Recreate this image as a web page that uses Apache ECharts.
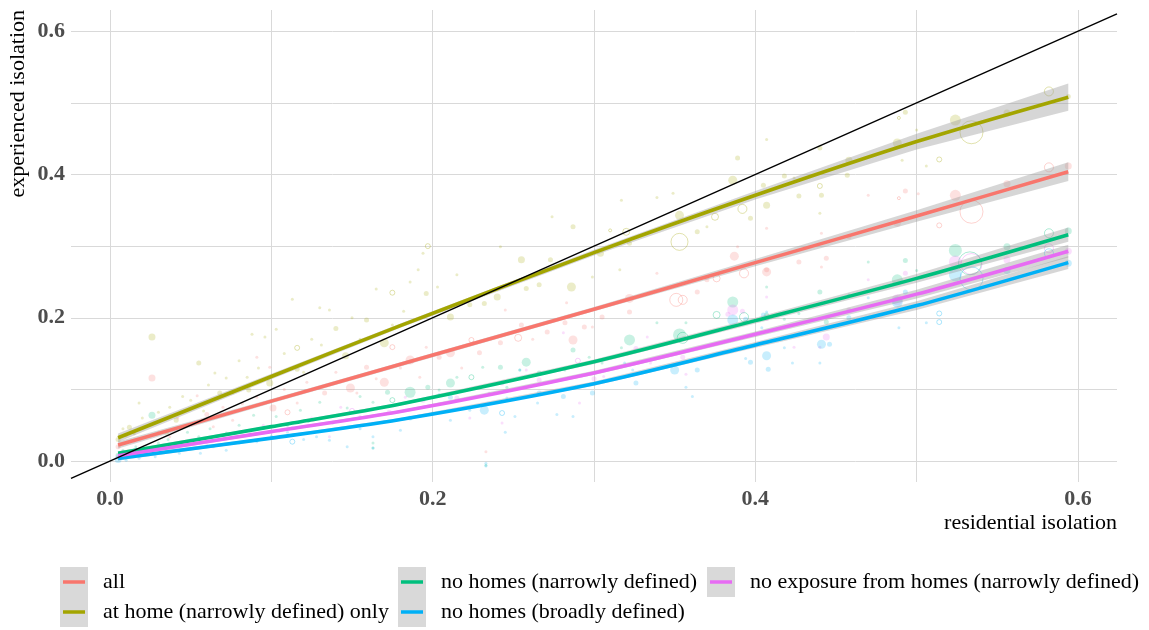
<!DOCTYPE html>
<html>
<head>
<meta charset="utf-8">
<script src="https://cdn.jsdelivr.net/npm/echarts@6/dist/echarts.min.js"></script>
<style>html,body{margin:0;padding:0;background:#fff}#c{width:1149px;height:630px}</style>
</head>
<body>
<div id="c"></div>
<script>
// ---------- data ----------
const groups = ['all', 'at home (narrowly defined) only', 'no homes (narrowly defined)', 'no homes (broadly defined)', 'no exposure from homes (narrowly defined)'];
const xRange = [-0.0242, 0.6242];
const yRange = [-0.0293, 0.6297];
const xGrid = [0, 0.1, 0.2, 0.3, 0.4, 0.5, 0.6];
const yGrid = [0, 0.1, 0.2, 0.3, 0.4, 0.5, 0.6];
const xTickLabels = [0, 0.2, 0.4, 0.6];
const yTickLabels = [0, 0.2, 0.4, 0.6];

// fitted curves
const fitX = [0.005, 0.1, 0.18, 0.3, 0.4, 0.5, 0.594];
const fitAll   = [0.0223, 0.0836, 0.135, 0.212, 0.277, 0.342, 0.404];
const fitHome  = [0.0325, 0.118, 0.189, 0.291, 0.371, 0.446, 0.508];
const fitNoHN  = [0.0107, 0.048, 0.0796, 0.1386, 0.196, 0.255, 0.316];
const fitNoHB  = [0.0037, 0.032, 0.058, 0.108, 0.162, 0.217, 0.277];
const fitNoExp = [0.0074, 0.041, 0.069, 0.123, 0.177, 0.233, 0.293];
// half widths of the confidence bands
const seAll   = [0.005, 0.003, 0.003, 0.003, 0.005, 0.008, 0.013];
const seHome  = [0.006, 0.004, 0.003, 0.004, 0.006, 0.011, 0.019];
const seNoHN  = [0.003, 0.002, 0.002, 0.003, 0.004, 0.006, 0.010];
const seNoHB  = [0.003, 0.002, 0.002, 0.003, 0.004, 0.006, 0.009];
const seNoExp = [0.003, 0.002, 0.002, 0.003, 0.004, 0.006, 0.009];

// points: [residential, experienced, weight]
const ptsAll = [[0.005,0.020,2],[0.010,0.035,1],[0.015,0.028,1],[0.020,0.045,1],[0.026,0.116,3],[0.030,0.040,1],[0.037,0.034,1],[0.042,0.060,1],[0.048,0.050,1],[0.054,0.091,1],[0.060,0.065,2],[0.064,0.048,1],[0.070,0.075,1],[0.076,0.057,1],[0.082,0.080,1],[0.091,0.089,1],[0.091,0.145,1],[0.099,0.131,1],[0.101,0.074,3],[0.108,0.100,1],[0.116,0.081,1],[0.122,0.110,1],[0.126,0.057,1],[0.133,0.095,2],[0.140,0.124,1],[0.149,0.102,4],[0.153,0.095,1],[0.159,0.131,2],[0.165,0.115,1],[0.170,0.110,4],[0.180,0.130,1],[0.186,0.141,4],[0.192,0.117,1],[0.196,0.159,1],[0.204,0.145,2],[0.211,0.151,4],[0.218,0.130,1],[0.229,0.151,2],[0.242,0.165,2],[0.245,0.211,1],[0.255,0.190,2],[0.262,0.170,1],[0.271,0.180,2],[0.282,0.193,2],[0.283,0.221,1],[0.287,0.169,4],[0.294,0.187,2],[0.299,0.187,1],[0.305,0.201,2],[0.322,0.227,4],[0.322,0.208,2],[0.339,0.262,1],[0.364,0.236,2],[0.370,0.253,2],[0.387,0.286,4],[0.389,0.299,1],[0.407,0.267,2],[0.407,0.264,4],[0.407,0.325,1],[0.427,0.278,2],[0.441,0.318,1],[0.444,0.283,2],[0.441,0.271,1],[0.458,0.313,2],[0.470,0.371,1],[0.488,0.332,3],[0.493,0.377,2],[0.501,0.373,1],[0.524,0.371,5],[0.556,0.387,3],[0.594,0.412,3],[0.233,0.013,1]];
const openAll = [[0.110,0.068,2],[0.175,0.159,2],[0.224,0.169,2],[0.253,0.172,3],[0.351,0.225,6],[0.355,0.225,4],[0.376,0.255,3],[0.393,0.262,4],[0.489,0.367,1],[0.514,0.329,2],[0.534,0.348,11],[0.582,0.410,4]];

const ptsHome = [[0.005,0.030,2],[0.008,0.045,1],[0.012,0.047,2],[0.015,0.038,1],[0.018,0.081,1],[0.020,0.060,1],[0.026,0.173,3],[0.027,0.053,1],[0.030,0.068,1],[0.035,0.040,2],[0.037,0.075,1],[0.041,0.057,2],[0.045,0.090,1],[0.050,0.085,1],[0.055,0.137,2],[0.058,0.070,1],[0.061,0.106,1],[0.065,0.123,1],[0.068,0.095,2],[0.072,0.116,1],[0.076,0.095,1],[0.080,0.140,1],[0.085,0.117,1],[0.086,0.099,2],[0.088,0.177,1],[0.092,0.130,1],[0.096,0.173,1],[0.099,0.109,3],[0.103,0.184,1],[0.108,0.150,1],[0.113,0.226,1],[0.116,0.128,2],[0.120,0.124,1],[0.125,0.170,1],[0.130,0.214,1],[0.131,0.162,1],[0.136,0.211,1],[0.140,0.185,2],[0.146,0.147,3],[0.150,0.200,1],[0.155,0.170,1],[0.159,0.197,2],[0.165,0.240,1],[0.170,0.165,4],[0.175,0.190,1],[0.182,0.209,1],[0.186,0.250,1],[0.191,0.267,1],[0.194,0.290,1],[0.196,0.234,2],[0.203,0.243,1],[0.211,0.201,3],[0.215,0.260,1],[0.223,0.218,2],[0.232,0.220,2],[0.240,0.229,3],[0.242,0.299,1],[0.255,0.281,3],[0.258,0.241,2],[0.266,0.246,2],[0.273,0.281,2],[0.274,0.341,1],[0.286,0.243,4],[0.287,0.327,2],[0.299,0.257,1],[0.304,0.290,3],[0.316,0.267,1],[0.317,0.364,1],[0.322,0.304,2],[0.339,0.368,1],[0.349,0.374,1],[0.353,0.343,4],[0.364,0.320,2],[0.370,0.327,1],[0.386,0.392,4],[0.389,0.423,2],[0.397,0.339,2],[0.405,0.385,2],[0.407,0.357,3],[0.407,0.449,1],[0.418,0.398,2],[0.424,0.395,1],[0.427,0.370,2],[0.440,0.437,2],[0.441,0.371,2],[0.440,0.346,1],[0.457,0.399,2],[0.458,0.420,3],[0.488,0.444,4],[0.491,0.420,1],[0.493,0.487,2],[0.500,0.462,1],[0.506,0.412,1],[0.524,0.476,5],[0.556,0.486,3],[0.594,0.509,2]];
const openHome = [[0.116,0.158,2],[0.175,0.235,2],[0.197,0.300,2],[0.310,0.322,1],[0.320,0.320,3],[0.353,0.306,8],[0.375,0.341,3],[0.392,0.352,4],[0.440,0.384,2],[0.489,0.479,1],[0.514,0.421,2],[0.534,0.459,11],[0.582,0.516,4]];

const ptsNoHN = [[0.005,0.008,2],[0.008,0.015,1],[0.012,0.010,1],[0.016,0.020,1],[0.020,0.014,1],[0.026,0.064,3],[0.030,0.025,1],[0.036,0.030,1],[0.042,0.022,1],[0.048,0.040,1],[0.055,0.034,1],[0.062,0.045,1],[0.072,0.039,1],[0.080,0.050,1],[0.089,0.064,1],[0.095,0.045,1],[0.103,0.062,1],[0.110,0.050,1],[0.118,0.071,1],[0.123,0.055,1],[0.130,0.082,1],[0.138,0.053,1],[0.147,0.074,1],[0.155,0.090,1],[0.163,0.082,1],[0.163,0.025,1],[0.163,0.018,1],[0.172,0.096,2],[0.186,0.096,5],[0.197,0.103,2],[0.204,0.099,1],[0.211,0.109,4],[0.215,0.117,1],[0.231,0.131,1],[0.233,-0.006,1],[0.242,0.131,2],[0.246,0.103,1],[0.254,0.127,1],[0.258,0.138,4],[0.266,0.123,2],[0.282,0.127,1],[0.287,0.155,2],[0.297,0.145,1],[0.305,0.137,1],[0.317,0.158,1],[0.322,0.169,5],[0.339,0.193,1],[0.353,0.176,6],[0.357,0.193,1],[0.386,0.222,5],[0.407,0.243,1],[0.407,0.204,2],[0.418,0.198,1],[0.427,0.206,1],[0.440,0.236,2],[0.444,0.194,2],[0.458,0.232,1],[0.470,0.278,1],[0.488,0.253,5],[0.493,0.280,2],[0.500,0.266,1],[0.524,0.294,6],[0.556,0.299,3],[0.594,0.321,3]];
const openNoHN = [[0.175,0.085,2],[0.224,0.117,2],[0.355,0.172,5],[0.376,0.204,3],[0.393,0.201,4],[0.533,0.276,11],[0.582,0.318,4]];

const ptsNoHB = [[0.005,0.002,3],[0.008,0.006,2],[0.010,0.001,1],[0.014,0.008,1],[0.018,0.004,1],[0.022,0.010,2],[0.028,0.006,1],[0.035,0.014,1],[0.043,0.011,1],[0.050,0.018,1],[0.056,0.011,1],[0.064,0.020,1],[0.072,0.015,1],[0.080,0.025,1],[0.091,0.027,1],[0.100,0.035,1],[0.110,0.040,1],[0.120,0.030,1],[0.128,0.034,1],[0.136,0.029,1],[0.147,0.020,1],[0.155,0.045,1],[0.163,0.034,1],[0.163,0.018,1],[0.170,0.055,1],[0.180,0.043,1],[0.186,0.060,2],[0.200,0.067,1],[0.204,0.093,1],[0.211,0.089,2],[0.211,0.057,1],[0.223,0.071,1],[0.225,0.076,1],[0.232,0.071,4],[0.233,-0.003,1],[0.233,-0.007,1],[0.245,0.040,1],[0.246,0.088,1],[0.251,0.062,1],[0.254,0.127,1],[0.265,0.081,1],[0.266,0.095,2],[0.277,0.065,1],[0.281,0.090,2],[0.287,0.062,1],[0.299,0.095,2],[0.319,0.137,1],[0.324,0.127,1],[0.326,0.109,2],[0.350,0.127,4],[0.357,0.103,1],[0.361,0.090,1],[0.364,0.127,2],[0.386,0.197,5],[0.394,0.198,2],[0.394,0.143,1],[0.397,0.138,2],[0.404,0.186,1],[0.405,0.204,2],[0.407,0.147,4],[0.407,0.208,1],[0.408,0.128,2],[0.418,0.158,1],[0.423,0.137,1],[0.440,0.137,1],[0.441,0.163,4],[0.446,0.163,2],[0.458,0.200,2],[0.470,0.228,1],[0.488,0.222,5],[0.489,0.186,1],[0.493,0.236,2],[0.506,0.193,1],[0.524,0.260,6],[0.556,0.266,3],[0.594,0.276,3]];
const openNoHB = [[0.113,0.027,2],[0.243,0.067,2],[0.514,0.206,2],[0.514,0.194,2],[0.534,0.255,11],[0.582,0.290,4]];

const ptsNoExp = [[0.005,0.006,2],[0.010,0.012,1],[0.015,0.008,1],[0.020,0.016,1],[0.025,0.010,1],[0.032,0.022,1],[0.041,0.020,1],[0.050,0.030,1],[0.060,0.022,1],[0.070,0.035,1],[0.087,0.039,1],[0.095,0.050,1],[0.105,0.042,1],[0.113,0.047,1],[0.125,0.060,1],[0.136,0.034,1],[0.143,0.075,1],[0.147,0.057,1],[0.155,0.062,1],[0.163,0.053,1],[0.173,0.068,2],[0.183,0.089,1],[0.194,0.085,2],[0.205,0.080,1],[0.215,0.088,2],[0.223,0.060,1],[0.235,0.095,1],[0.243,0.109,2],[0.243,0.053,1],[0.258,0.127,1],[0.266,0.113,2],[0.281,0.179,1],[0.291,0.081,1],[0.300,0.115,2],[0.306,0.118,1],[0.326,0.157,2],[0.333,0.173,1],[0.335,0.137,1],[0.355,0.145,2],[0.357,0.121,1],[0.383,0.205,2],[0.386,0.211,5],[0.392,0.209,2],[0.407,0.229,1],[0.407,0.199,2],[0.424,0.159,1],[0.440,0.159,1],[0.441,0.221,1],[0.444,0.173,3],[0.458,0.211,2],[0.470,0.253,1],[0.488,0.225,5],[0.493,0.262,2],[0.524,0.278,6],[0.556,0.281,3],[0.594,0.293,3]];
const openNoExp = [[0.150,0.070,2],[0.290,0.140,2],[0.534,0.275,10],[0.582,0.297,4]];

// ---------- build ----------
const colors = ['#F8766D', '#A3A500', '#00BF7D', '#00B0F6', '#E76BF3'];
const fits = [fitAll, fitHome, fitNoHN, fitNoHB, fitNoExp];
const ses = [seAll, seHome, seNoHN, seNoHB, seNoExp];
const pts = [ptsAll, ptsHome, ptsNoHN, ptsNoHB, ptsNoExp];
const opens = [openAll, openHome, openNoHN, openNoHB, openNoExp];
const FONT = '"Liberation Serif", "DejaVu Serif", serif';

function hexA(h, a) {
  const r = parseInt(h.slice(1,3),16), g = parseInt(h.slice(3,5),16), b = parseInt(h.slice(5,7),16);
  return 'rgba(' + r + ',' + g + ',' + b + ',' + a + ')';
}
const sizeOf = v => 1 + 2 * v[2];

const series = [];
// points
[0,1,2,4,3].forEach(i => {
  series.push({
    type: 'scatter', name: groups[i] + ' points', data: pts[i], symbolSize: sizeOf,
    itemStyle: { color: hexA(colors[i], 0.27) }, silent: true, z: 1
  });
  series.push({
    type: 'scatter', name: groups[i] + ' open', data: opens[i], symbolSize: sizeOf,
    itemStyle: { color: 'rgba(0,0,0,0)', borderColor: hexA(colors[i], 0.4), borderWidth: 1 }, silent: true, z: 1
  });
});
// bands (custom polygons) + fitted lines
[0,1,2,3,4].forEach(i => {
  const bandData = fitX.map((x, k) => [x, fits[i][k] - ses[i][k], fits[i][k] + ses[i][k]]);
  series.push({
    type: 'custom', name: 'band ' + i, data: bandData, silent: true, z: 2, clip: true,
    encode: { x: 0, y: [1, 2] },
    renderItem: function (params, api) {
      if (params.dataIndex !== 0) return null;
      const up = bandData.map(d => api.coord([d[0], d[2]]));
      const lo = bandData.map(d => api.coord([d[0], d[1]])).reverse();
      return { type: 'polygon', shape: { points: up.concat(lo) },
        style: { fill: 'rgba(153,153,153,0.4)', stroke: null } };
    }
  });
  series.push({
    type: 'line', name: groups[i], data: fitX.map((x, k) => [x, fits[i][k]]), symbol: 'none', smooth: 0.3,
    lineStyle: { color: colors[i], width: 3.6, join: 'round' }, itemStyle: { color: colors[i] }, silent: true, z: 3
  });
});
// diagonal y = x across the panel
series.push({
  type: 'line', name: 'identity', data: [[xRange[0], xRange[0]], [xRange[1], xRange[1]]], symbol: 'none',
  lineStyle: { color: '#000', width: 1.4 }, silent: true, z: 4
});

const legendCols = [[0, 1], [2, 3], [4]];
const legendLeft = [60, 398, 707];
const legends = [];
legendCols.forEach((col, c) => {
  legends.push({
    orient: 'vertical', left: legendLeft[c], top: 567, padding: 0, itemGap: 0, itemWidth: 28, itemHeight: 30,
    icon: 'rect', selectedMode: false, z: 3, height: 62,
    data: col.map(i => ({ name: groups[i], itemStyle: { color: '#d9d9d9', borderWidth: 0 } })),
    textStyle: { color: 'rgba(0,0,0,0)', fontFamily: FONT, fontSize: 22, lineHeight: 30 }
  });
  legends.push({
    orient: 'vertical', left: legendLeft[c] + 3, top: 567, padding: 0, itemGap: 0, itemWidth: 22, itemHeight: 3.5,
    icon: 'rect', selectedMode: false, z: 5, height: 62,
    data: col.map(i => ({ name: groups[i], itemStyle: { color: colors[i], borderWidth: 0 } })),
    textStyle: { color: '#000', fontFamily: FONT, fontSize: 22, lineHeight: 30, padding: [0, 0, 0, 13] }
  });
});

const option = {
  animation: false,
  backgroundColor: '#fff',
  grid: { left: 71, right: 32, top: 10, bottom: 148, containLabel: false },
  xAxis: {
    type: 'value', min: xRange[0], max: xRange[1],
    axisLine: { show: false },
    axisTick: { show: false, customValues: xGrid },
    splitLine: { show: true, lineStyle: { color: '#d9d9d9', width: 1 } },
    axisLabel: { customValues: xTickLabels, formatter: v => v.toFixed(1), margin: 6,
      color: '#4d4d4d', fontFamily: FONT, fontSize: 22, fontWeight: 'bold' }
  },
  yAxis: {
    type: 'value', min: yRange[0], max: yRange[1],
    axisLine: { show: false },
    axisTick: { show: false, customValues: yGrid },
    splitLine: { show: true, lineStyle: { color: '#d9d9d9', width: 1 } },
    axisLabel: { customValues: yTickLabels, formatter: v => v.toFixed(1), margin: 6,
      color: '#4d4d4d', fontFamily: FONT, fontSize: 22, fontWeight: 'bold' }
  },
  legend: legends,
  graphic: [
    { type: 'text', x: 18, y: 10, rotation: Math.PI / 2, silent: true,
      style: { text: 'experienced isolation', fill: '#000', font: '22px ' + FONT, align: 'right', verticalAlign: 'middle' } },
    { type: 'text', x: 1117, y: 523, silent: true,
      style: { text: 'residential isolation', fill: '#000', font: '22px ' + FONT, align: 'right', verticalAlign: 'middle' } }
  ],
  series: series
};

const chart = echarts.init(document.getElementById('c'), null, { renderer: 'canvas' });
chart.setOption(option);
</script>
</body>
</html>
